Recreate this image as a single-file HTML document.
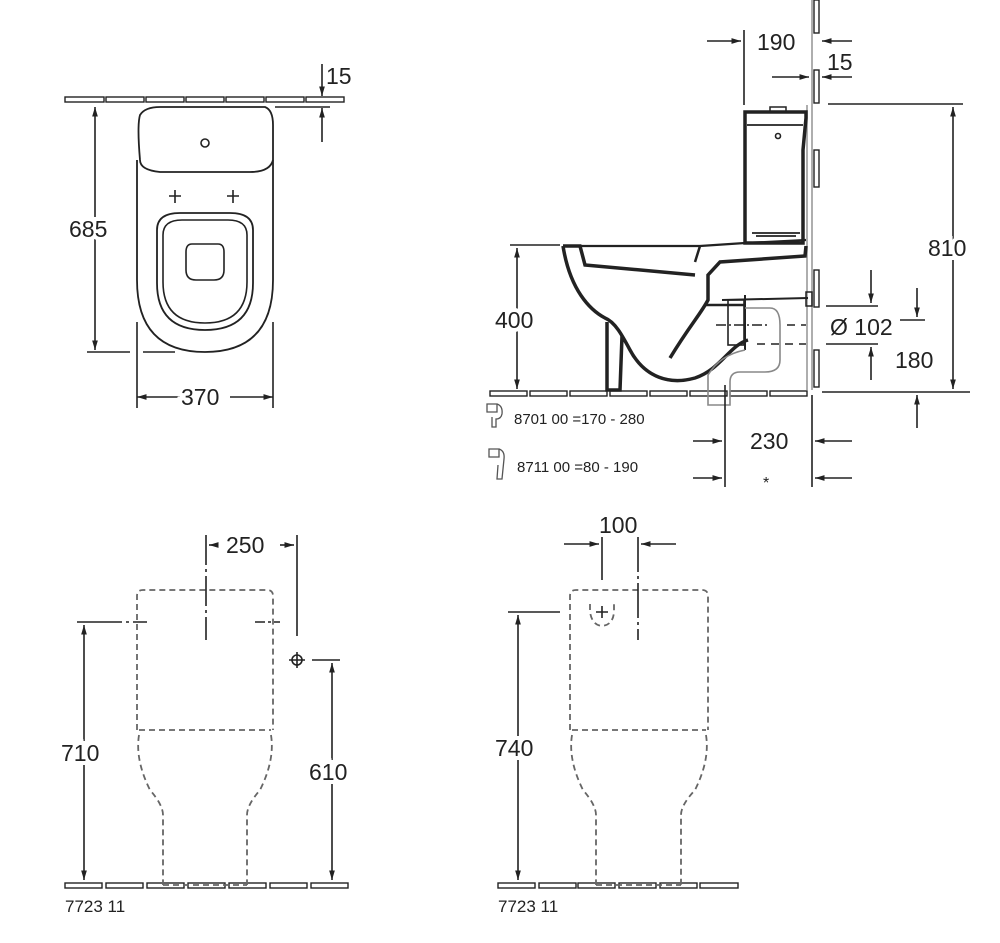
<!DOCTYPE html>
<html><head><meta charset="utf-8"><style>
html,body{margin:0;padding:0;background:#fff}
svg{display:block}
text{font-family:"Liberation Sans",Arial,sans-serif;fill:#222}
</style></head><body>
<svg width="1000" height="943" viewBox="0 0 1000 943" xmlns="http://www.w3.org/2000/svg">
<defs>
<marker id="a" viewBox="0 0 10 10" refX="10" refY="5" markerWidth="6" markerHeight="6" orient="auto-start-reverse"><path d="M0,2 L10,5 L0,8 z" fill="#222"/></marker>
</defs>
<g stroke="#222" fill="none" stroke-width="1.6">
<!-- ===== TOP LEFT PLAN ===== -->
<g stroke-width="1.4">
<rect x="65" y="97" width="39" height="5"/><rect x="106" y="97" width="38" height="5"/><rect x="146" y="97" width="38" height="5"/><rect x="186" y="97" width="38" height="5"/><rect x="226" y="97" width="38" height="5"/><rect x="266" y="97" width="38" height="5"/><rect x="306" y="97" width="38" height="5"/>
</g>
<path d="M140,160 Q137,125 140,115 Q145,107 160,107 L265,107 Q273,110 273,125 L273,160 Q270,172 250,172 L160,172 Q140,170 140,160" stroke-width="1.8"/>
<circle cx="205" cy="143" r="4"/>
<path d="M137,160 L137,280 Q137,352 205,352 Q273,352 273,280 L273,160" stroke-width="1.8"/>
<path d="M157,230 Q157,213 180,213 L230,213 Q253,213 253,230 L253,283 Q253,330 205,330 Q157,330 157,283 Z" stroke-width="1.8"/>
<path d="M163,235 Q163,220 182,220 L228,220 Q247,220 247,235 L247,282 Q247,323 205,323 Q163,323 163,282 Z" stroke-width="1.6"/>
<path d="M192,244 L218,244 Q224,244 224,252 L224,270 Q224,280 214,280 L196,280 Q186,280 186,270 L186,252 Q186,244 192,244 Z" stroke-width="1.6"/>
<path d="M169,196 h12 M175,190 v13 M227,196 h12 M233,190 v13"/>
<line x1="95" y1="107" x2="95" y2="350" marker-start="url(#a)" marker-end="url(#a)"/>
<line x1="87" y1="352" x2="130" y2="352"/><line x1="143" y1="352" x2="175" y2="352"/>
<line x1="137" y1="322" x2="137" y2="408"/><line x1="273" y1="322" x2="273" y2="408"/>
<line x1="137" y1="397" x2="180" y2="397" marker-start="url(#a)"/><line x1="230" y1="397" x2="273" y2="397" marker-end="url(#a)"/>
<line x1="322" y1="64" x2="322" y2="96" marker-end="url(#a)"/>
<line x1="275" y1="107" x2="330" y2="107"/>
<line x1="322" y1="142" x2="322" y2="108" marker-end="url(#a)"/>

<!-- ===== TOP RIGHT SIDE ===== -->
<g stroke-width="1.4">
<rect x="490" y="391" width="37" height="5"/><rect x="530" y="391" width="37" height="5"/><rect x="570" y="391" width="37" height="5"/><rect x="610" y="391" width="37" height="5"/><rect x="650" y="391" width="37" height="5"/><rect x="690" y="391" width="37" height="5"/><rect x="730" y="391" width="37" height="5"/><rect x="770" y="391" width="37" height="5"/>
<rect x="814" y="0" width="5" height="33"/><rect x="814" y="70" width="5" height="33"/><rect x="814" y="150" width="5" height="37"/><rect x="814" y="270" width="5" height="37"/><rect x="814" y="350" width="5" height="37"/>
</g>
<line x1="812" y1="0" x2="812" y2="390" stroke="#999"/>
<line x1="807" y1="105" x2="807" y2="390" stroke="#999"/>
<!-- tank -->
<path d="M745,112 L806,112 L806,118 L803,150 L803,243 L745,243 Z" stroke-width="3.5"/>
<path d="M747,125 L803,125" stroke-width="1.8"/>
<rect x="770" y="107" width="16" height="5" stroke-width="1.5"/>
<circle cx="778" cy="136" r="2.5"/>
<path d="M752,233 L800,233 M756,236 L796,236" stroke-width="1.8"/>
<!-- bowl -->
<path d="M563,246 L580,246 L585,265 L695,275" stroke-width="3.5"/>
<path d="M580,246 L700,246 L745,243 L806,240" stroke-width="2.2"/>
<path d="M563,246 C570,290 590,310 605,318 C615,322 622,335 630,350 C645,378 670,385 695,378 C720,370 730,345 748,340" stroke-width="3.5"/>
<path d="M607,322 L607,390 L620,390 L622,336" stroke-width="3.5"/>
<path d="M670,358 C690,325 700,315 708,300 L708,275 L720,262 L805,256 L806,246" stroke-width="3.5"/>
<path d="M695,262 L700,246" stroke-width="2.5"/>
<path d="M705,305 L745,305" stroke-width="2.5"/>
<path d="M722,300 L808,298" stroke-width="2"/><rect x="806" y="292" width="6" height="14" stroke-width="1.5"/>
<rect x="728" y="300" width="16" height="45" stroke-width="1.6"/>
<path d="M745,295 L745,350" stroke-width="2"/>
<path d="M745,308 L770,308 Q780,308 780,325 L780,360 Q780,372 765,372 L740,372 Q730,372 730,382 L730,405 L708,405 L708,375 Q720,355 745,350" stroke="#888" stroke-width="1.6"/>
<line x1="716" y1="325" x2="770" y2="325" stroke-dasharray="10,3,2,3"/>
<line x1="757" y1="344" x2="806" y2="344" stroke-dasharray="8,6"/>
<line x1="787" y1="325" x2="806" y2="325" stroke-dasharray="8,6"/>
<!-- dims -->
<line x1="517" y1="248" x2="517" y2="389" marker-start="url(#a)" marker-end="url(#a)"/>
<line x1="510" y1="245" x2="560" y2="245"/>
<line x1="744" y1="30" x2="744" y2="105"/>
<line x1="707" y1="41" x2="741" y2="41" marker-end="url(#a)"/>
<line x1="852" y1="41" x2="822" y2="41" marker-end="url(#a)"/>
<line x1="772" y1="77" x2="809" y2="77" marker-end="url(#a)"/>
<line x1="852" y1="77" x2="822" y2="77" marker-end="url(#a)"/>
<line x1="828" y1="104" x2="963" y2="104"/><line x1="822" y1="392" x2="970" y2="392"/>
<line x1="953" y1="107" x2="953" y2="389" marker-start="url(#a)" marker-end="url(#a)"/>
<line x1="826" y1="306" x2="878" y2="306"/><line x1="826" y1="344" x2="878" y2="344"/>
<line x1="871" y1="270" x2="871" y2="303" marker-end="url(#a)"/>
<line x1="871" y1="380" x2="871" y2="347" marker-end="url(#a)"/>
<line x1="917" y1="288" x2="917" y2="317" marker-end="url(#a)"/>
<line x1="900" y1="320" x2="925" y2="320"/>
<line x1="917" y1="428" x2="917" y2="395" marker-end="url(#a)"/>
<line x1="725" y1="385" x2="725" y2="487"/><line x1="812" y1="395" x2="812" y2="487"/>
<line x1="693" y1="441" x2="722" y2="441" marker-end="url(#a)"/>
<line x1="852" y1="441" x2="815" y2="441" marker-end="url(#a)"/>
<line x1="693" y1="478" x2="722" y2="478" marker-end="url(#a)"/>
<line x1="852" y1="478" x2="815" y2="478" marker-end="url(#a)"/>
<!-- small icons -->
<path d="M487,404 h10 v8 h-10 z M497,404 q6,2 5,10 q-1,5 -6,5 l0,8 l-4,0 l0,-10" stroke="#555" stroke-width="1.3"/>
<path d="M489,449 h10 v8 h-10 z M499,449 q6,2 5,10 l-2,20 l-5,0 l1,-14" stroke="#555" stroke-width="1.3"/>

<!-- ===== BOTTOM LEFT ===== -->
<g stroke-width="1.4">
<rect x="65" y="883" width="37" height="5"/><rect x="106" y="883" width="37" height="5"/><rect x="147" y="883" width="37" height="5"/><rect x="188" y="883" width="37" height="5"/><rect x="229" y="883" width="37" height="5"/><rect x="270" y="883" width="37" height="5"/><rect x="311" y="883" width="37" height="5"/>
</g>
<g stroke="#666" stroke-width="1.8" stroke-dasharray="6,4">
<path d="M137,730 L137,596 Q137,590 143,590 L267,590 Q273,590 273,596 L273,730"/>
<line x1="139" y1="730" x2="271" y2="730"/>
<path d="M139,735 Q135,760 150,790 Q163,805 163,815 L163,885"/>
<path d="M271,735 Q275,760 260,790 Q247,805 247,815 L247,885"/>
<line x1="163" y1="885" x2="247" y2="885"/>
</g>
<line x1="206" y1="535" x2="206" y2="640" stroke-dasharray="30,4,3,4"/>
<line x1="297" y1="535" x2="297" y2="636"/>
<line x1="216" y1="545" x2="209" y2="545" marker-end="url(#a)"/>
<line x1="280" y1="545" x2="294" y2="545" marker-end="url(#a)"/>
<line x1="77" y1="622" x2="155" y2="622" stroke-dasharray="45,4,3,4,14"/>
<line x1="255" y1="622" x2="280" y2="622" stroke-dasharray="10,3,3,3"/>
<circle cx="297" cy="660" r="5"/><path d="M289,660 h16 M297,652 v16"/>
<line x1="312" y1="660" x2="340" y2="660"/>
<line x1="84" y1="625" x2="84" y2="880" marker-start="url(#a)" marker-end="url(#a)"/>
<line x1="332" y1="663" x2="332" y2="880" marker-start="url(#a)" marker-end="url(#a)"/>

<!-- ===== BOTTOM RIGHT ===== -->
<g stroke-width="1.4">
<rect x="498" y="883" width="37" height="5"/><rect x="539" y="883" width="37" height="5"/><rect x="578" y="883" width="37" height="5"/><rect x="619" y="883" width="37" height="5"/><rect x="660" y="883" width="37" height="5"/><rect x="700" y="883" width="38" height="5"/>
</g>
<g stroke="#666" stroke-width="1.8" stroke-dasharray="6,4">
<path d="M570,730 L570,596 Q570,590 576,590 L702,590 Q708,590 708,596 L708,730"/>
<line x1="572" y1="730" x2="706" y2="730"/>
<path d="M572,735 Q568,760 583,790 Q596,805 596,815 L596,885"/>
<path d="M706,735 Q710,760 695,790 Q681,805 681,815 L681,885"/>
<line x1="596" y1="885" x2="681" y2="885"/>
<path d="M590,604 L590,612 Q592,625 602,626 Q613,625 614,612 L614,604"/>
</g>
<path d="M596,612 h12 M602,606 v12" stroke-width="1.6"/>
<line x1="602" y1="537" x2="602" y2="580"/>
<line x1="638" y1="537" x2="638" y2="640" stroke-dasharray="35,4,3,4"/>
<line x1="564" y1="544" x2="599" y2="544" marker-end="url(#a)"/>
<line x1="676" y1="544" x2="641" y2="544" marker-end="url(#a)"/>
<line x1="508" y1="612" x2="560" y2="612"/>
<line x1="518" y1="615" x2="518" y2="880" marker-start="url(#a)" marker-end="url(#a)"/>
</g>

<g font-size="23">
<text x="69" y="237" style="paint-order:stroke" stroke="#fff" stroke-width="8">685</text>
<text x="181" y="405" style="paint-order:stroke" stroke="#fff" stroke-width="8">370</text>
<text x="326" y="84">15</text>
<text x="495" y="328" style="paint-order:stroke" stroke="#fff" stroke-width="8">400</text>
<text x="757" y="50">190</text>
<text x="827" y="70">15</text>
<text x="928" y="256" style="paint-order:stroke" stroke="#fff" stroke-width="8">810</text>
<text x="830" y="335">Ø 102</text>
<text x="895" y="368">180</text>
<text x="750" y="449">230</text>
<text x="226" y="553">250</text>
<text x="61" y="761" style="paint-order:stroke" stroke="#fff" stroke-width="8">710</text>
<text x="309" y="780" style="paint-order:stroke" stroke="#fff" stroke-width="8">610</text>
<text x="599" y="533">100</text>
<text x="495" y="756" style="paint-order:stroke" stroke="#fff" stroke-width="8">740</text>
</g>
<text x="763" y="488" font-size="16">*</text>
<g font-size="15">
<text x="514" y="424" fill="#333">8701 00  =170 - 280</text>
<text x="517" y="472" fill="#333">8711 00  =80 -  190</text>
<text x="65" y="912" font-size="17">7723 11</text>
<text x="498" y="912" font-size="17">7723 11</text>
</g>
</svg>
</body></html>
